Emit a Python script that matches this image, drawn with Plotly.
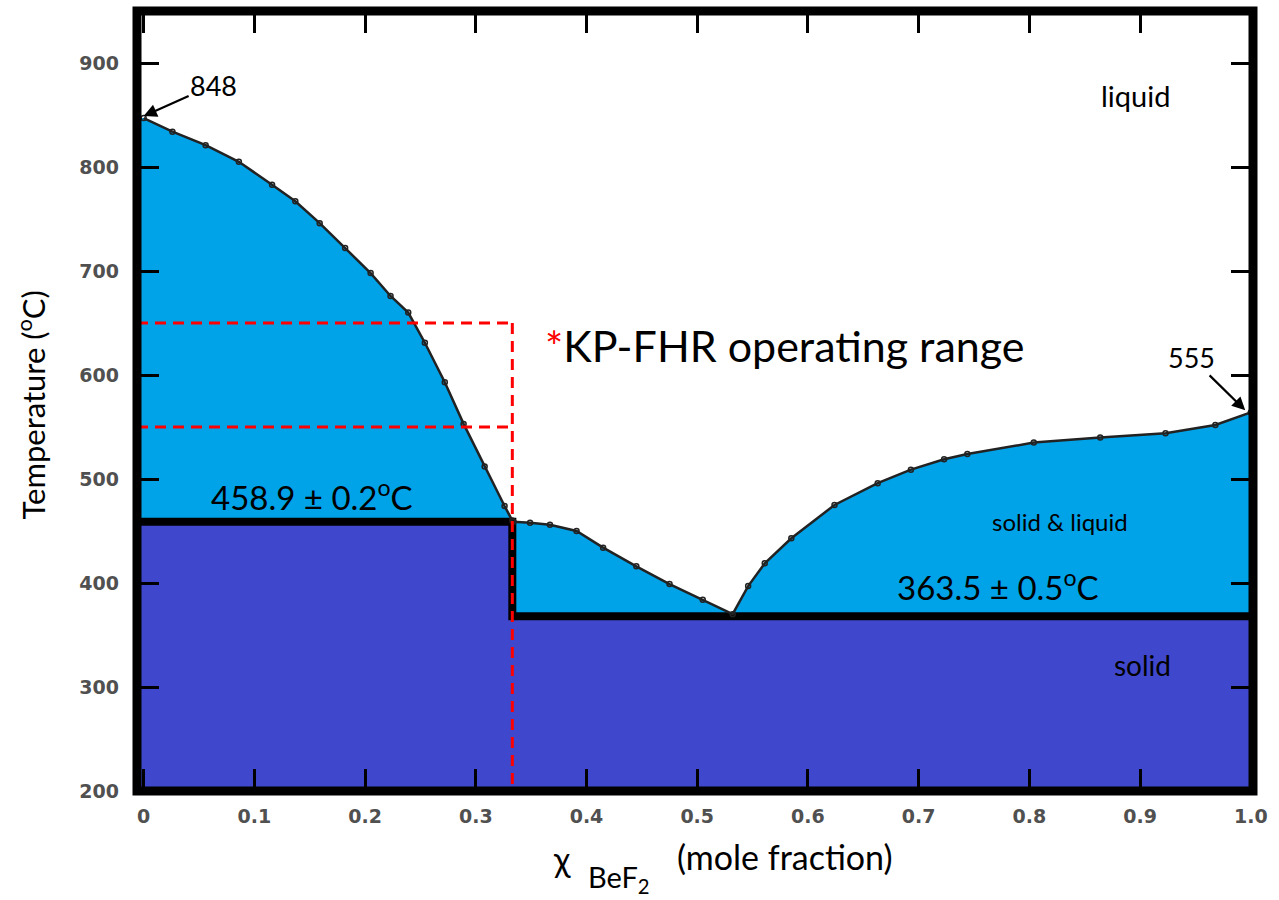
import plotly.graph_objects as go

# ---------------- data ----------------
# liquidus, KF-rich side (x_BeF2 from 0 to the 2KF-BeF2 compound)
x_liq_left = [0.0, 0.026, 0.056, 0.086, 0.116, 0.137, 0.159, 0.182, 0.205, 0.223,
              0.239, 0.254, 0.272, 0.289, 0.308, 0.326, 0.333]
t_liq_left = [847, 834, 821, 805, 783, 767, 746, 722, 698, 676,
              660, 631, 593, 553, 512, 474, 460]
# liquidus, BeF2-rich side
x_liq_right = [0.334, 0.349, 0.367, 0.391, 0.415, 0.445, 0.475, 0.505, 0.532, 0.546,
               0.561, 0.585, 0.624, 0.663, 0.693, 0.723, 0.744, 0.804, 0.864, 0.923,
               0.968, 1.0]
t_liq_right = [459, 458, 456, 450, 434, 416, 399, 384, 370, 397,
               419, 443, 475, 496, 509, 519, 524, 535, 540, 544,
               552, 564]

x_compound = 0.333        # 2KF.BeF2 composition
t_upper_solidus = 459     # 458.9 +/- 0.2 C
t_lower_solidus = 368     # drawn eutectic line (363.5 +/- 0.5 C)
t_op_range = [550, 650]   # KP-FHR operating range

x_ticks = [0, 0.1, 0.2, 0.3, 0.4, 0.5, 0.6, 0.7, 0.8, 0.9, 1.0]
x_tick_text = ["0", "0.1", "0.2", "0.3", "0.4", "0.5", "0.6", "0.7", "0.8", "0.9", "1.0"]
y_ticks = [200, 300, 400, 500, 600, 700, 800, 900]

X_RANGE = [-0.006, 1.002]
Y_RANGE = [200, 950]

LIGHT = "#00A2E8"
DARK = "#3F48CC"
FONT = "Lato"

xmin, xmax = X_RANGE
ymin = Y_RANGE[0]

fig = go.Figure()

# solid & liquid region (under liquidus)
fig.add_trace(go.Scatter(
    x=[xmin] + x_liq_left + x_liq_right + [xmax, xmax, xmin],
    y=[t_liq_left[0]] + t_liq_left + t_liq_right + [t_liq_right[-1], ymin, ymin],
    fill="toself", fillcolor=LIGHT, line=dict(width=0), mode="lines",
    hoverinfo="skip", showlegend=False))

# solid region
fig.add_trace(go.Scatter(
    x=[xmin, xmin, x_compound, x_compound, xmax, xmax],
    y=[ymin, t_upper_solidus, t_upper_solidus, t_lower_solidus, t_lower_solidus, ymin],
    fill="toself", fillcolor=DARK, line=dict(width=0), mode="lines",
    hoverinfo="skip", showlegend=False))

# thick solidus lines
fig.add_trace(go.Scatter(
    x=[xmin, x_compound, x_compound, xmax],
    y=[t_upper_solidus, t_upper_solidus, t_lower_solidus, t_lower_solidus],
    mode="lines", line=dict(color="black", width=8), hoverinfo="skip", showlegend=False))

# liquidus curves
for xs, ts in [(x_liq_left, t_liq_left), (x_liq_right, t_liq_right)]:
    fig.add_trace(go.Scatter(
        x=xs, y=ts, mode="lines+markers",
        line=dict(color="#222222", width=2.5),
        marker=dict(symbol="circle-open", size=5, color="#222222", line=dict(width=1.5)),
        showlegend=False))

# KP-FHR operating range (red dashed)
red_dash = dict(color="#FF0000", width=3, dash="11px,7px")
for t in t_op_range:
    fig.add_trace(go.Scatter(x=[xmin, x_compound], y=[t, t], mode="lines",
                             line=red_dash, hoverinfo="skip", showlegend=False))
fig.add_trace(go.Scatter(x=[x_compound, x_compound], y=[max(t_op_range), 205], mode="lines",
                         line=red_dash, hoverinfo="skip", showlegend=False))

# frame
fig.add_shape(type="rect", xref="paper", yref="paper", x0=0, x1=1, y0=0, y1=1,
              line=dict(color="black", width=9), layer="above")

ann = []
def text(x, y, s, size, xref="x", yref="y", color="black", angle=0):
    ann.append(dict(x=x, y=y, xref=xref, yref=yref, text=s, showarrow=False,
                    font=dict(family=FONT, size=size, color=color),
                    xanchor="center", yanchor="middle", textangle=angle))

text(0.896, 869, "liquid", 29)
text(0.828, 459.6, "solid &amp; liquid", 24)
text(0.902, 321, "solid", 28)
text(0.152, 484.6, "458.9 ± 0.2<sup>o</sup>C", 33)
text(0.772, 398, "363.5 ± 0.5<sup>o</sup>C", 33)
text(0.579, 628.8, '<span style="color:#FF0000">*</span>KP-FHR operating range', 43)

# arrows
ann.append(dict(x=0.0, y=849, xref="x", yref="y", text="848", showarrow=True,
                ax=70, ay=-31, arrowhead=2, arrowsize=1.2, arrowwidth=2.2, arrowcolor="black",
                font=dict(family=FONT, size=27, color="black")))
ann.append(dict(x=0.995, y=566, xref="x", yref="y", text="555", showarrow=True,
                ax=-54, ay=-53, arrowhead=2, arrowsize=1.2, arrowwidth=2.2, arrowcolor="black",
                font=dict(family=FONT, size=27, color="black")))

# axis titles
text(-0.0945, 0.495, "Temperature (<sup>o</sup>C)", 31, xref="paper", yref="paper", angle=-90)
text(0.381, -0.0870, "χ", 34, xref="paper", yref="paper")
text(0.432, -0.1125, "BeF<sub>2</sub>", 29, xref="paper", yref="paper")
text(0.581, -0.0846, "(mole fraction)", 34, xref="paper", yref="paper")

tickfont = dict(family="DejaVu Sans", size=19, color="#505050", weight="bold")
fig.update_layout(
    width=1279, height=900,
    margin=dict(l=137, r=18, t=11, b=109),
    paper_bgcolor="white", plot_bgcolor="white",
    annotations=ann,
    xaxis=dict(range=X_RANGE, tickvals=x_ticks, ticktext=x_tick_text,
               ticks="inside", ticklen=22, tickwidth=3, tickcolor="black",
               mirror="allticks", showline=False, showgrid=False, zeroline=False,
               tickfont=tickfont, ticklabelstandoff=12),
    yaxis=dict(range=Y_RANGE, tickvals=y_ticks,
               ticks="inside", ticklen=22, tickwidth=3, tickcolor="black",
               mirror="allticks", showline=False, showgrid=False, zeroline=False,
               tickfont=tickfont, ticklabelstandoff=17),
)

fig.write_html("out.html", config={"displayModeBar": False},
               post_script="document.body.style.margin='0';document.body.style.overflow='hidden';")
